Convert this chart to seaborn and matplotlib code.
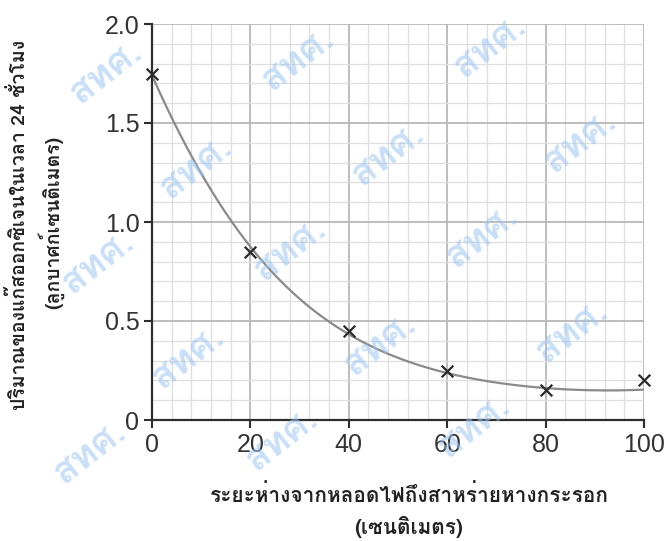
import numpy as np
import pandas as pd
import matplotlib
matplotlib.use("Agg")
import matplotlib.pyplot as plt
import seaborn as sns
from matplotlib import font_manager
from matplotlib.ft2font import FT2Font
from matplotlib.ticker import MultipleLocator

# Data
distance_cm = [0, 20, 40, 60, 80, 100]
oxygen_cm3 = [1.75, 0.85, 0.45, 0.25, 0.15, 0.20]

x_ticks = [0, 20, 40, 60, 80, 100]
y_ticks = [0, 0.5, 1.0, 1.5, 2.0]
y_tick_labels = ["0", "0.5", "1.0", "1.5", "2.0"]

x_label = ["ระยะห่างจากหลอดไฟถึงสาหร่ายหางกระรอก", "(เซนติเมตร)"]
y_label = ["ปริมาณของแก๊สออกซิเจนในเวลา 24 ชั่วโมง", "(ลูกบาศก์เซนติเมตร)"]
watermark = "สทศ."


def find_thai_font():
    # look for any installed font that has Thai glyphs
    for f in font_manager.fontManager.ttflist:
        try:
            cmap = FT2Font(f.fname).get_charmap()
        except Exception:
            continue
        if 0x0E01 in cmap and 0x0E2A in cmap:
            return f.name
    return "DejaVu Sans"


sns.set_theme(style="white")
thai = find_thai_font()
plt.rcParams['font.family'] = [thai, 'Liberation Sans', 'DejaVu Sans']

df = pd.DataFrame({"distance": distance_cm, "oxygen": oxygen_cm3})

# smooth trend curve fitted through the measured points (cubic in log space)
coef = np.polyfit(df["distance"], np.log(df["oxygen"]), 3, w=[4, 3, 2, 2, 2, 0.6])
xs = np.linspace(0, 100, 300)
curve = pd.DataFrame({"distance": xs, "oxygen": np.exp(np.polyval(coef, xs))})

fig = plt.figure(figsize=(6.67, 5.41), dpi=100)
ax = fig.add_axes([152 / 667, 1 - 420 / 541, 492 / 667, 396 / 541])

sns.lineplot(data=curve, x="distance", y="oxygen", ax=ax, color="#8a8a8a", lw=1.6, zorder=3)
sns.scatterplot(data=df, x="distance", y="oxygen", ax=ax, marker="x", s=70,
                color="#2b2b2b", linewidth=1.6, zorder=4, clip_on=False)

ax.set_xlim(0, 100)
ax.set_ylim(0, 2.0)
ax.xaxis.set_minor_locator(MultipleLocator(4))
ax.yaxis.set_minor_locator(MultipleLocator(0.1))
ax.set_xticks(x_ticks)
ax.set_yticks(y_ticks)
ax.set_yticklabels(y_tick_labels)

ax.grid(which="major", color="#b8b8b8", lw=1.3, zorder=0)
ax.grid(which="minor", color="#dedede", lw=0.9, zorder=0)
ax.set_axisbelow(True)

for s in ["top", "right"]:
    ax.spines[s].set_visible(False)
for s in ["left", "bottom"]:
    ax.spines[s].set_color("#2e2e2e")
    ax.spines[s].set_linewidth(1.6)
    ax.spines[s].set_zorder(5)

ax.tick_params(which="major", direction="out", length=6, width=1.5, color="#2e2e2e",
               labelsize=18, labelcolor="#333333", pad=3, left=True, bottom=True)
ax.tick_params(which="minor", length=0)
for lab in ax.get_xticklabels() + ax.get_yticklabels():
    lab.set_family(["Liberation Sans", "DejaVu Sans"])

ax.set_xlabel("")
ax.set_ylabel("")

fig.text(409 / 667, 1 - 495 / 541, x_label[0], ha="center", va="center",
         fontsize=15, fontweight="bold", color="#222222")
fig.text(409 / 667, 1 - 527 / 541, x_label[1], ha="center", va="center",
         fontsize=15, fontweight="bold", color="#222222")
fig.text(19 / 667, 1 - 225 / 541, y_label[0], ha="center", va="center", rotation=90,
         fontsize=14, fontweight="bold", color="#222222")
fig.text(51 / 667, 1 - 222 / 541, y_label[1], ha="center", va="center", rotation=90,
         fontsize=14, fontweight="bold", color="#222222")

# faint watermark lattice (only the marks that fit inside the picture)
for r in range(7):
    y0 = 72 + 95 * r
    x0 = 106 - 4 * r + (94 if r % 2 else 0)
    for k in range(-1, 4):
        x = x0 + 192 * k
        y = y0 - 13 * k
        if 45 < x < 667 - 45 and 35 < y < 541 - 35:
            fig.text(x / 667, 1 - y / 541, watermark, ha="center", va="center", rotation=38,
                     fontsize=27, fontweight="bold", color="#9cc6f3", alpha=0.55, zorder=10)

fig.savefig("out.png", dpi=100)
